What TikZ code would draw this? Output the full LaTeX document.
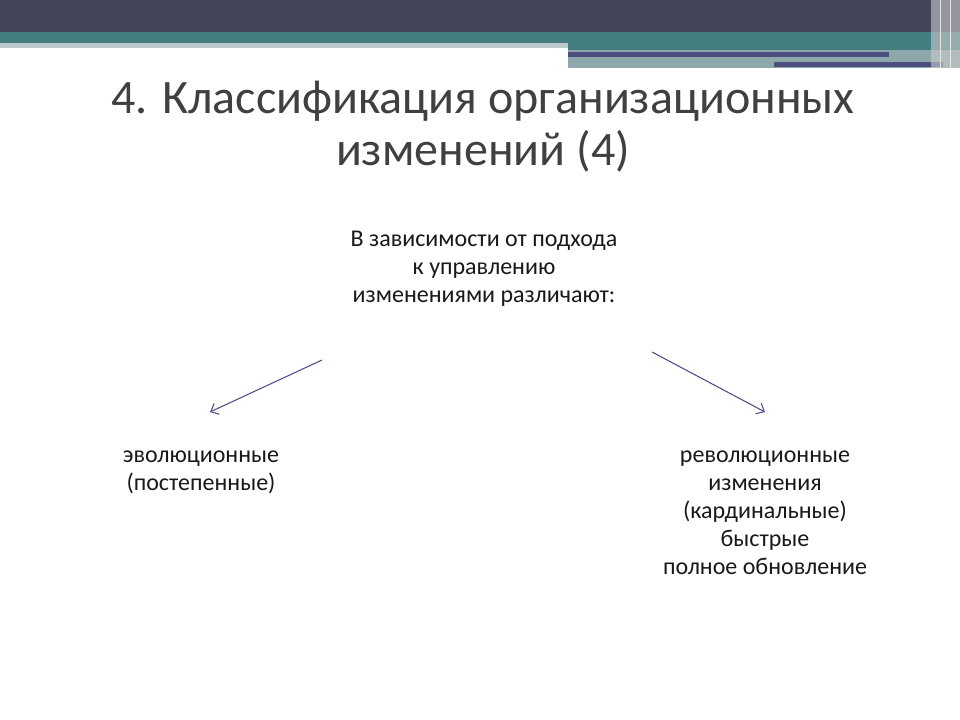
\documentclass[tikz,border=0pt]{standalone}
\usepackage{fontspec}
\setmainfont{Carlito}
\usetikzlibrary{arrows.meta}
\definecolor{bardark}{HTML}{434558}
\definecolor{barteal}{HTML}{447E80}
\definecolor{barblue}{HTML}{4B4E7E}
\definecolor{bargrey}{HTML}{8EA7AA}
\definecolor{titlegrey}{HTML}{404040}
\definecolor{arrowblue}{HTML}{4F5088}
\tikzset{
  bodytext/.style={align=center, font=\fontsize{18}{21}\selectfont, text=black!90},
  titletext/.style={align=center, font=\fontsize{36}{39}\selectfont, text=titlegrey},
  pointer/.style={draw=arrowblue, line width=0.8pt, -{Straight Barb[length=5pt,width=9pt]}}
}
\begin{document}
\begin{tikzpicture}[x=0.75pt,y=-0.75pt]

		\useasboundingbox (0,0) rectangle (960,720);
		\fill[white] (0,0) rectangle (960,720);

		% top bars
		\fill[bardark] (0,0) rectangle (960,32);
		\fill[barteal] (0,32) rectangle (960,43);
		\fill[bargrey!60] (0,43) rectangle (568,48);
		\fill[barteal] (568,43) rectangle (960,50);
		\fill[bargrey] (568,50) rectangle (960,68);
		\fill[barblue] (568,52) rectangle (889,57);
		\fill[barblue] (774,62) rectangle (943,67);
		\fill[gray!40,opacity=0.6] (931,0) rectangle (960,68);
		\draw[white!80!gray] (940,0) -- (940,68);
		\draw[white!80!gray] (950,0) -- (950,68);

		\node[titletext] (title) at (483,127) {4. Классификация организационных\\изменений (4)};

		\node[bodytext] (basis) at (484,269) {В зависимости от подхода\\к управлению\\изменениями различают:};

		\node[bodytext] (evol) at (201,472) {эволюционные\\(постепенные)};
		\node[bodytext] (revol) at (765,513) {революционные\\изменения\\(кардинальные)\\быстрые\\полное обновление};

		\coordinate (lstart) at (322,360);
		\coordinate (lend) at (210,412);
		\coordinate (rstart) at (652,352);
		\coordinate (rend) at (765,412);

		\draw[pointer] (lstart) -- (lend);
		\draw[pointer] (rstart) -- (rend);

	\end{tikzpicture}
\end{document}
